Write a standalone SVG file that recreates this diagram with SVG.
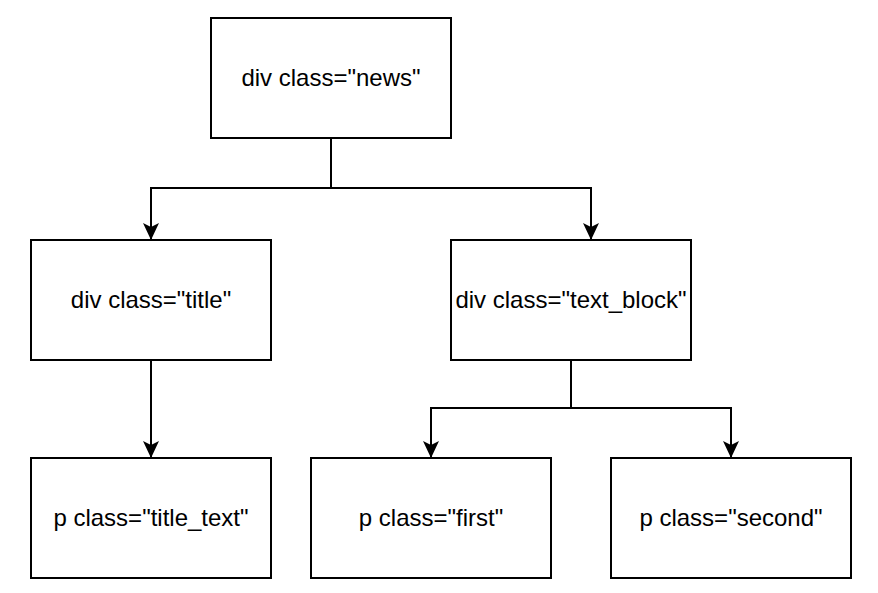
<svg xmlns="http://www.w3.org/2000/svg" width="878" height="593" viewBox="0 0 878 593">
<defs>
<marker id="arr" viewBox="0 0 17 16" refX="17" refY="8" markerWidth="17" markerHeight="16" markerUnits="userSpaceOnUse" orient="auto">
<path d="M0,0 L17,8 L0,16 L4,8 Z" fill="#000"/>
</marker>
</defs>
<style>
.box{fill:#fff;stroke:#000;stroke-width:2}
.lbl{font-family:"Liberation Sans",Arial,sans-serif;font-size:24px;fill:#000;text-anchor:middle}
.conn{fill:none;stroke:#000;stroke-width:2}
</style>
<rect width="878" height="593" fill="#fff"/>
<g id="connectors">
<path class="conn" d="M331,138 V188 H151 V240" marker-end="url(#arr)"/>
<path class="conn" d="M331,188 H591 V240" marker-end="url(#arr)"/>
<path class="conn" d="M151,360 V458" marker-end="url(#arr)"/>
<path class="conn" d="M571,360 V408 H431 V458" marker-end="url(#arr)"/>
<path class="conn" d="M571,408 H731 V458" marker-end="url(#arr)"/>
</g>
<g id="news"><rect class="box" x="211" y="18" width="240" height="120"/><text class="lbl" x="331" y="86">div class="news"</text></g>
<g id="title"><rect class="box" x="31" y="240" width="240" height="120"/><text class="lbl" x="151" y="308">div class="title"</text></g>
<g id="text_block"><rect class="box" x="451" y="240" width="240" height="120"/><text class="lbl" x="571" y="308">div class="text_block"</text></g>
<g id="title_text"><rect class="box" x="31" y="458" width="240" height="120"/><text class="lbl" x="151" y="526">p class="title_text"</text></g>
<g id="first"><rect class="box" x="311" y="458" width="240" height="120"/><text class="lbl" x="431" y="526">p class="first"</text></g>
<g id="second"><rect class="box" x="611" y="458" width="240" height="120"/><text class="lbl" x="731" y="526">p class="second"</text></g>
</svg>
